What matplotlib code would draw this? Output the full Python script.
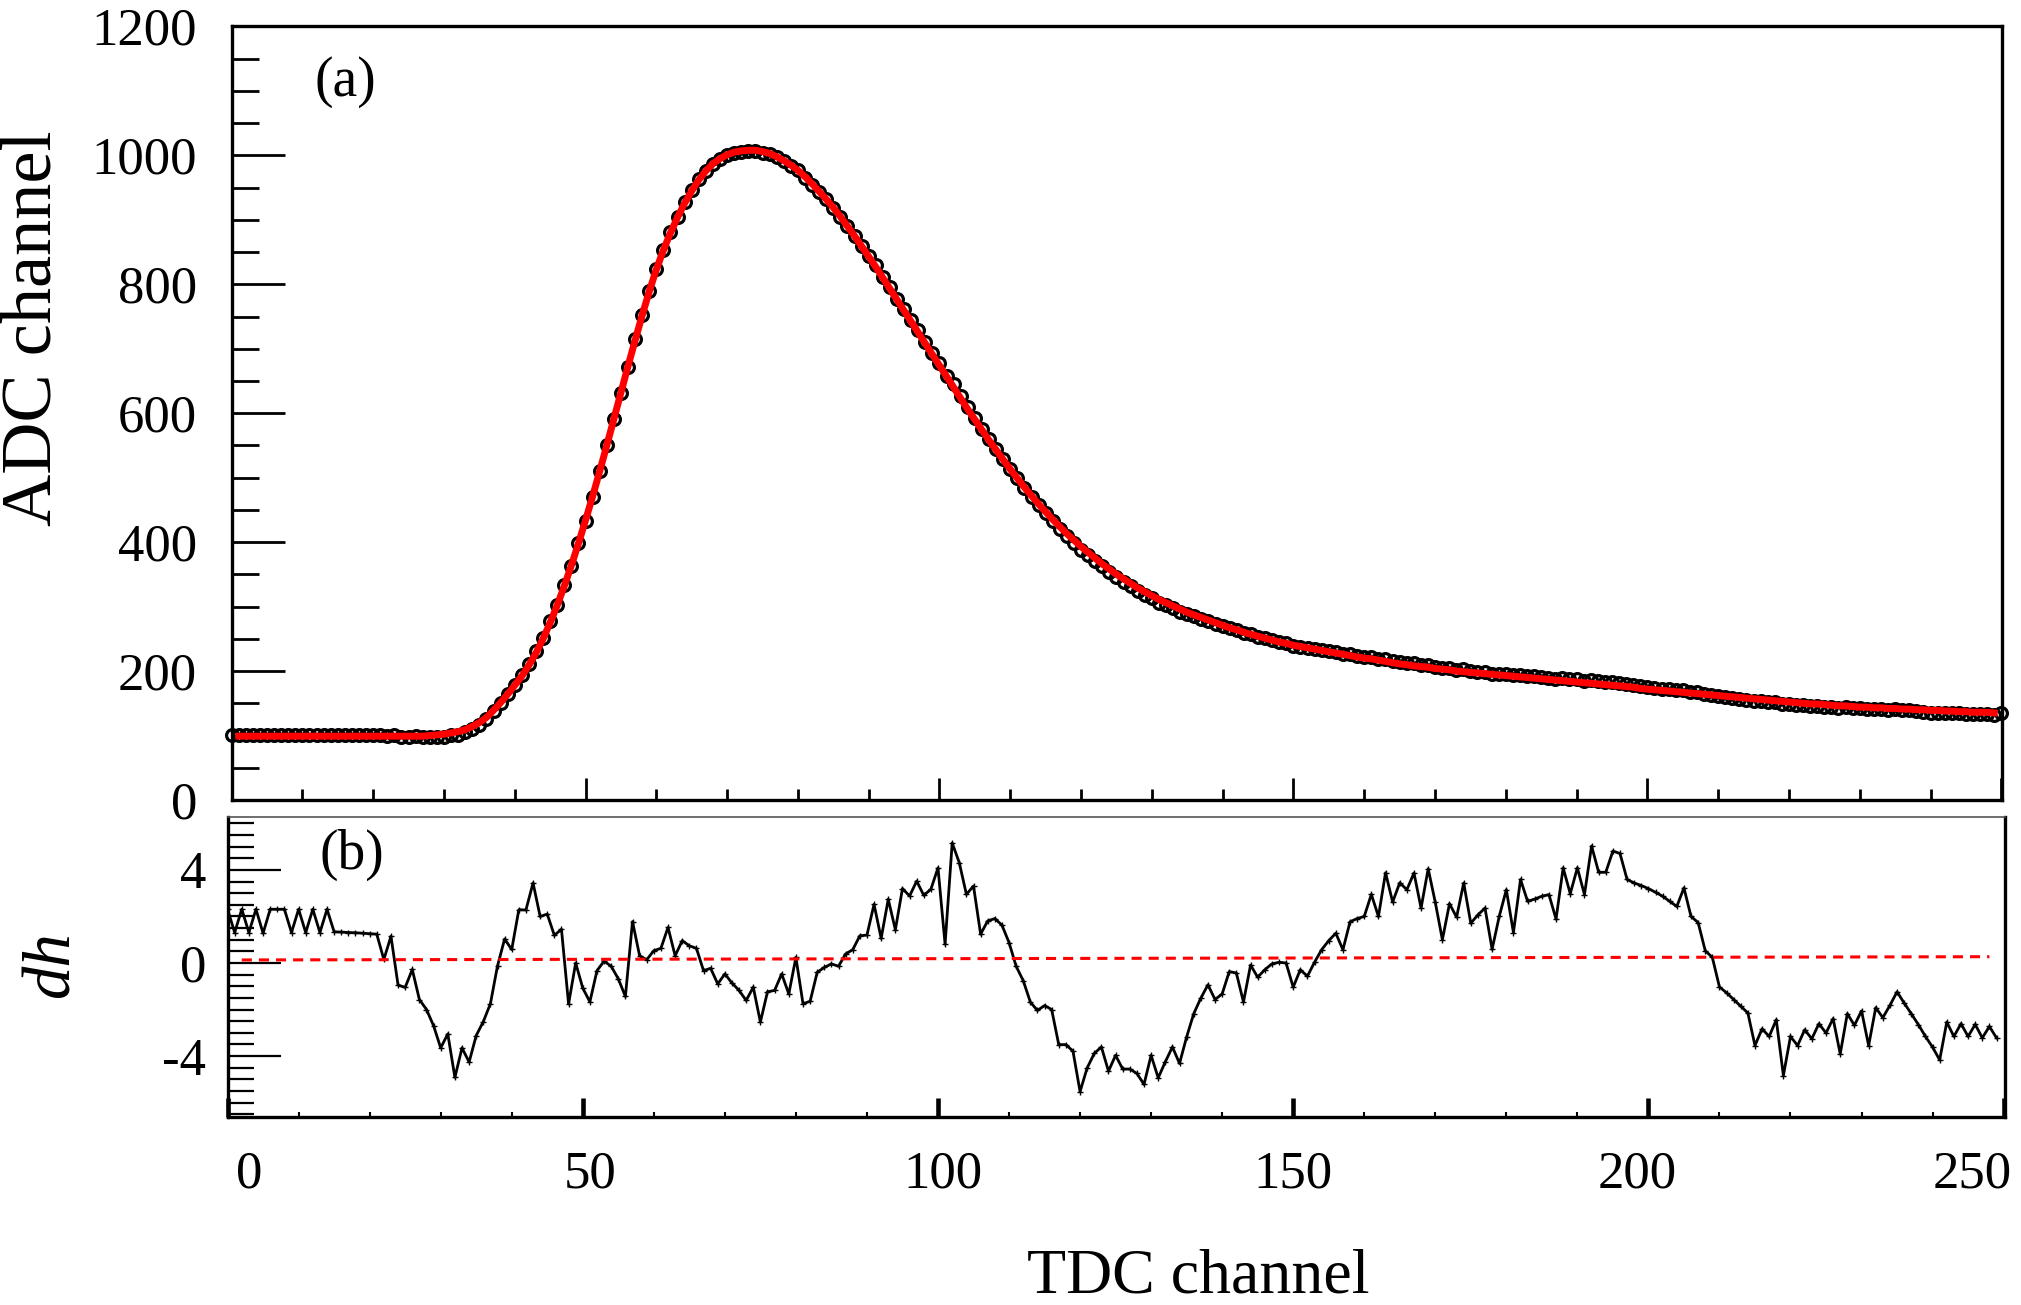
import numpy as np
import matplotlib.pyplot as plt
from matplotlib.ticker import MultipleLocator
from matplotlib.transforms import ScaledTranslation

plt.rcParams['font.family'] = ['Liberation Serif', 'DejaVu Serif']
plt.rcParams['axes.unicode_minus'] = False

# fitted pulse height (ADC channel) for TDC channels 0..250
adc_fit = [
    99, 99, 99, 99, 99, 99, 99, 99, 99, 99,
    99, 99, 99, 99, 99, 99, 99, 99, 99, 99,
    99, 99, 99, 99, 99, 99, 99, 99, 100, 101,
    102, 104, 106, 109, 114, 120, 128, 139, 151, 164,
    178, 192, 209, 228, 250, 275, 302, 332, 364, 398,
    434, 471, 510, 550, 591, 632, 673, 713, 752, 789,
    823, 853, 880, 904, 926, 945, 962, 976, 987, 995,
    1001, 1005, 1007, 1008, 1008, 1006, 1003, 998, 992, 985,
    977, 967, 956, 944, 932, 919, 905, 890, 875, 859,
    843, 827, 810, 793, 776, 759, 742, 725, 708, 691,
    674, 657, 640, 623, 606, 590, 574, 558, 543, 528,
    513, 499, 485, 472, 459, 447, 435, 424, 413, 403,
    393, 384, 375, 366, 358, 350, 343, 336, 329, 323,
    317, 311, 306, 301, 296, 291, 287, 283, 279, 275,
    271, 267, 264, 260, 257, 254, 251, 248, 245, 243,
    240, 238, 236, 234, 232, 230, 228, 226, 224, 222,
    220, 219, 217, 215, 213, 211, 210, 208, 207, 206,
    204, 203, 202, 200, 199, 198, 197, 196, 195, 194,
    193, 192, 191, 190, 189, 188, 187, 186, 185, 184,
    183, 182, 181, 180, 179, 178, 177, 176, 175, 173,
    172, 171, 170, 169, 168, 167, 166, 165, 164, 163,
    162, 161, 160, 159, 158, 157, 156, 155, 154, 153,
    152, 151, 150, 149, 149, 148, 147, 146, 146, 145,
    144, 144, 143, 143, 142, 142, 141, 141, 140, 140,
    139, 139, 138, 138, 137, 137, 136, 136, 136, 135,
    135,
]

# residuals dh for TDC channels 0..249
dh = [
    2.31, 1.31, 2.31, 1.31, 2.31, 1.28, 2.31, 2.31, 2.31, 1.31,
    2.31, 1.31, 2.31, 1.31, 2.31, 1.34, 1.33, 1.31, 1.30, 1.28,
    1.26, 1.24, 0.15, 1.15, -0.95, -1.05, -0.28, -1.57, -2.00, -2.70,
    -3.65, -3.05, -4.92, -3.65, -4.26, -3.12, -2.52, -1.75, -0.12, 1.03,
    0.58, 2.29, 2.28, 3.44, 2.00, 2.10, 1.19, 1.45, -1.76, 0.00,
    -1.08, -1.67, -0.33, 0.08, -0.14, -0.68, -1.44, 1.78, 0.31, 0.14,
    0.53, 0.63, 1.53, 0.31, 0.96, 0.74, 0.63, -0.33, -0.23, -0.90,
    -0.47, -0.86, -1.18, -1.61, -1.04, -2.54, -1.24, -1.18, -0.47, -1.33,
    0.24, -1.75, -1.65, -0.40, -0.19, -0.04, -0.14, 0.39, 0.57, 1.17,
    1.20, 2.52, 1.06, 2.74, 1.43, 3.20, 2.88, 3.52, 2.91, 3.17,
    4.09, 0.81, 5.16, 4.31, 2.95, 3.31, 1.24, 1.81, 1.91, 1.63,
    0.88, -0.14, -0.76, -1.68, -2.04, -1.83, -2.00, -3.51, -3.51, -3.79,
    -5.53, -4.51, -3.89, -3.61, -4.65, -3.97, -4.56, -4.56, -4.75, -5.22,
    -3.97, -4.94, -4.25, -3.61, -4.32, -3.18, -2.18, -1.51, -0.94, -1.57,
    -1.33, -0.37, -0.43, -1.68, -0.09, -0.61, -0.29, -0.04, 0.03, 0.00,
    -1.04, -0.29, -0.57, 0.03, 0.57, 0.96, 1.28, 0.57, 1.77, 1.91,
    2.00, 2.95, 2.00, 3.88, 2.62, 3.45, 3.15, 3.87, 2.36, 4.05,
    2.61, 1.00, 2.55, 1.97, 3.44, 1.71, 2.07, 2.36, 0.59, 2.00,
    3.15, 1.31, 3.59, 2.65, 2.75, 2.87, 2.94, 1.89, 4.09, 2.98,
    4.09, 2.94, 5.03, 3.90, 3.90, 4.81, 4.71, 3.59, 3.44, 3.33,
    3.20, 3.04, 2.87, 2.65, 2.43, 3.23, 2.00, 1.74, 0.53, 0.24,
    -1.03, -1.28, -1.57, -1.86, -2.15, -3.55, -2.83, -3.16, -2.44, -4.84,
    -3.16, -3.55, -2.87, -3.26, -2.61, -3.01, -2.39, -3.91, -2.18, -2.68,
    -2.06, -3.55, -1.92, -2.35, -1.82, -1.24, -1.72, -2.18, -2.65, -3.16,
    -3.62, -4.17, -2.54, -3.16, -2.61, -3.16, -2.64, -3.22, -2.73, -3.22,
]

# straight-line fit through the residuals
zero_x = [2, 248]
zero_dh = [0.13, 0.27]

x_ticks = [0, 50, 100, 150, 200, 250]
x_shift = [22, 7, 5, 0, -11, -31]   # label offsets in pixels

tdc = np.arange(len(adc_fit))
fit = np.array(adc_fit, dtype=float)
res = np.array(dh)
adc = fit.copy()
adc[:len(res)] += res

fig = plt.figure(figsize=(20.21, 13.05), dpi=100)
ax1 = fig.add_axes([0.1146, 0.387, 0.876, 0.5927])
ax2 = fig.add_axes([0.1126, 0.1441, 0.8795, 0.2299])

# (a) pulse shape with fit
ax1.plot(tdc, adc, 'o', ms=8.5, mfc='none', mec='black', mew=2.3,
         clip_on=False, zorder=3)
ax1.plot(tdc[1:250], fit[1:250], color='#ff0000', lw=5, zorder=4)
ax1.set_xlim(0, 250.1)
ax1.set_ylim(0, 1200)
ax1.xaxis.set_major_locator(MultipleLocator(50))
ax1.xaxis.set_minor_locator(MultipleLocator(10))
ax1.yaxis.set_major_locator(MultipleLocator(200))
ax1.yaxis.set_minor_locator(MultipleLocator(50))
ax1.tick_params(axis='both', which='both', direction='in', top=False, right=False,
                labelbottom=False, labelsize=38)
ax1.tick_params(axis='y', which='major', length=38, width=2, pad=25)
ax1.tick_params(axis='y', which='minor', length=19.5, width=2)
ax1.tick_params(axis='x', which='major', length=16, width=2)
ax1.tick_params(axis='x', which='minor', length=7.7, width=2)
for s in ax1.spines.values():
    s.set_linewidth(2.4)
ax1.set_ylabel('ADC channel', fontsize=52)
ax1.yaxis.set_label_coords(-0.094, 0.61)
ax1.text(0.047, 0.928, '(a)', transform=ax1.transAxes, fontsize=40,
         ha='left', va='center')

# (b) residuals
ax2.plot(tdc[:len(res)], res, color='black', lw=2.0, marker='+', ms=5, mew=1.0)
ax2.plot(zero_x, zero_dh, color='#ff0000', lw=2.2, dashes=(3.3, 2.3))
ax2.set_xlim(0, 250.2)
ax2.set_ylim(-6.62, 6.28)
ax2.set_xticks(x_ticks)
ax2.xaxis.set_minor_locator(MultipleLocator(10))
ax2.yaxis.set_major_locator(MultipleLocator(4))
ax2.yaxis.set_minor_locator(MultipleLocator(0.5))
ax2.tick_params(axis='both', which='both', direction='in', top=False, right=False,
                labelsize=38)
ax2.tick_params(axis='y', which='major', length=38, width=1.6, pad=15.5)
ax2.tick_params(axis='y', which='minor', length=19, width=1.6)
ax2.tick_params(axis='x', which='major', length=14, width=3.3, pad=24)
ax2.tick_params(axis='x', which='minor', length=3.6, width=1.5)
for s in ax2.spines.values():
    s.set_linewidth(2.4)
ax2.spines['top'].set_linewidth(1.2)
ax2.spines['top'].set_color('#555555')
for lbl, dx in zip(ax2.get_xticklabels(), x_shift):
    lbl.set_transform(lbl.get_transform() + ScaledTranslation(dx / 100, 0, fig.dpi_scale_trans))
ax2.set_ylabel('dh', fontsize=48, fontstyle='italic')
ax2.yaxis.set_label_coords(-0.0816, 0.51)
ax2.set_xlabel('TDC channel', fontsize=46)
ax2.xaxis.set_label_coords(0.546, -0.44)
ax2.text(0.052, 0.873, '(b)', transform=ax2.transAxes, fontsize=40,
         ha='left', va='center')

fig.savefig('out.png', dpi=100)
